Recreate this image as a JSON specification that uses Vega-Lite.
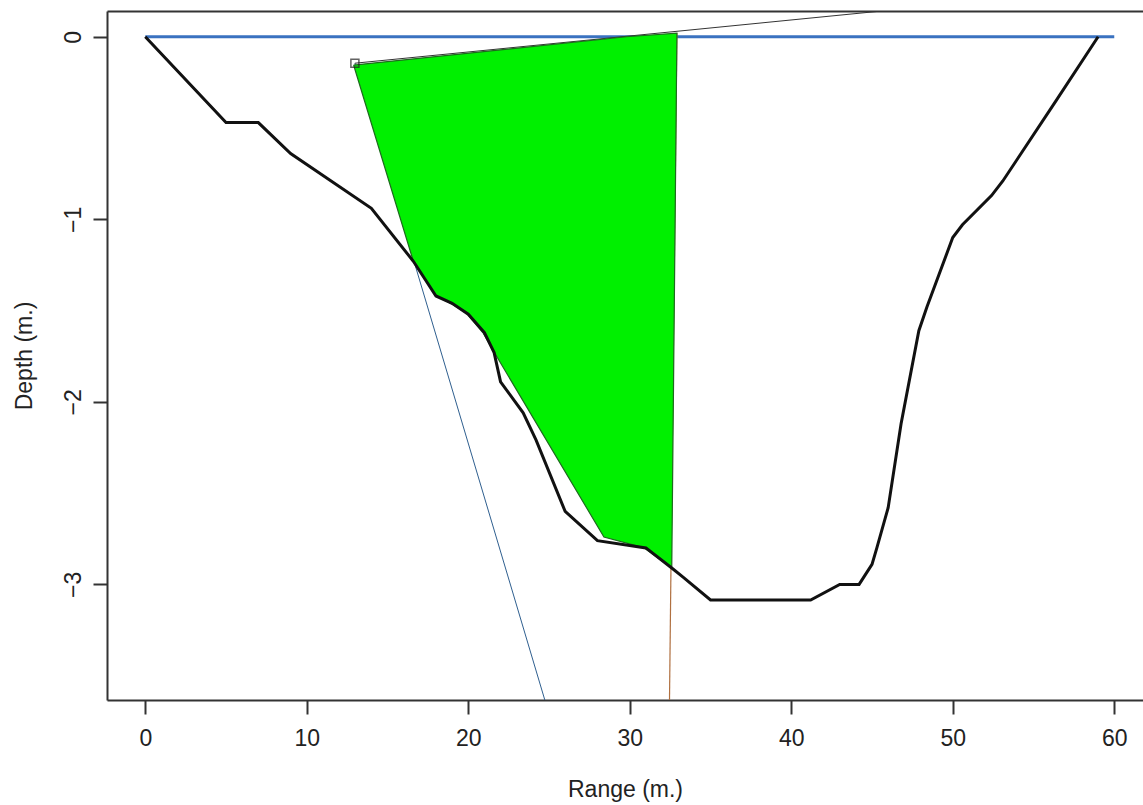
{
  "$schema": "https://vega.github.io/schema/vega-lite/v6.json",
  "autosize": {"type": "none"},
  "width": 1036,
  "height": 689,
  "padding": {"left": 107, "top": 11, "right": 0, "bottom": 105},
  "background": "white",
  "config": {
    "view": {"stroke": null},
    "font": "Liberation Sans",
    "axis": {"grid": false}
  },
  "datasets": {
    "water": [{"x": 0, "y": 0}, {"x": 60, "y": 0}],
    "profile": [
      {"x": 0, "y": 0}, {"x": 5, "y": -0.47}, {"x": 7, "y": -0.47}, {"x": 9, "y": -0.64},
      {"x": 14, "y": -0.94}, {"x": 16.6, "y": -1.23}, {"x": 18, "y": -1.42}, {"x": 19, "y": -1.46},
      {"x": 20, "y": -1.52}, {"x": 21, "y": -1.62}, {"x": 21.6, "y": -1.73}, {"x": 22, "y": -1.89},
      {"x": 23.4, "y": -2.06}, {"x": 24.2, "y": -2.21}, {"x": 26, "y": -2.6}, {"x": 28, "y": -2.76},
      {"x": 31, "y": -2.8}, {"x": 32.6, "y": -2.91}, {"x": 33.3, "y": -2.96}, {"x": 35, "y": -3.085},
      {"x": 41.2, "y": -3.085}, {"x": 43, "y": -3.0}, {"x": 44.2, "y": -3.0}, {"x": 45, "y": -2.89},
      {"x": 45.3, "y": -2.8}, {"x": 46, "y": -2.58}, {"x": 46.8, "y": -2.12}, {"x": 47.9, "y": -1.61},
      {"x": 48.4, "y": -1.48}, {"x": 50, "y": -1.1}, {"x": 50.6, "y": -1.03}, {"x": 52.4, "y": -0.87},
      {"x": 53.1, "y": -0.79}, {"x": 56.4, "y": -0.35}, {"x": 59, "y": 0}
    ],
    "poly": [
      {"i": 1, "x": 12.9, "y": -0.155}, {"i": 2, "x": 29.8, "y": 0.0}, {"i": 3, "x": 32.92, "y": 0.02},
      {"i": 4, "x": 32.6, "y": -2.91}, {"i": 5, "x": 30.9, "y": -2.8}, {"i": 6, "x": 28.4, "y": -2.74},
      {"i": 7, "x": 21.55, "y": -1.72}, {"i": 8, "x": 20.9, "y": -1.62}, {"i": 9, "x": 19.9, "y": -1.515},
      {"i": 10, "x": 18.9, "y": -1.46}, {"i": 11, "x": 18.0, "y": -1.42}, {"i": 12, "x": 16.6, "y": -1.23},
      {"i": 13, "x": 12.9, "y": -0.155}
    ],
    "rayDown": [{"x": 12.98, "y": -0.145}, {"x": 24.74, "y": -3.633}],
    "rayUp": [{"x": 12.98, "y": -0.145}, {"x": 45.6, "y": 0.141}],
    "vline": [{"i": 1, "x": 32.92, "y": 0.02}, {"i": 2, "x": 32.46, "y": -3.633}],
    "square": [{"x": 12.98, "y": -0.145}]
  },
  "resolve": {"axis": {"x": "independent", "y": "independent"}},
  "layer": [
    {
      "data": {"name": "water"},
      "mark": {"type": "line", "color": "#3a72c0", "strokeWidth": 3},
      "encoding": {
        "x": {"field": "x", "type": "quantitative", "scale": {"domain": [-2.37, 61.78], "nice": false, "zero": false},
          "axis": {"orient": "bottom", "values": [0, 10, 20, 30, 40, 50, 60], "title": "Range (m.)",
            "domain": true, "domainColor": "#333", "domainWidth": 2,
            "tickSize": 14, "tickColor": "#333", "tickWidth": 2,
            "labelFontSize": 23, "labelColor": "#222", "labelPadding": 13, "labelFont": "Liberation Sans",
            "titleFontSize": 23, "titleFontWeight": "normal", "titleColor": "#222", "titlePadding": 28, "titleFont": "Liberation Sans"}},
        "y": {"field": "y", "type": "quantitative", "scale": {"domain": [-3.633, 0.141], "nice": false, "zero": false}, "axis": null}
      }
    },
    {
      "data": {"name": "rayDown"},
      "mark": {"type": "line", "color": "#2f5f8f", "strokeWidth": 1, "clip": true},
      "encoding": {
        "x": {"field": "x", "type": "quantitative", "scale": {"domain": [-2.37, 61.78], "nice": false, "zero": false}, "axis": null},
        "y": {"field": "y", "type": "quantitative", "scale": {"domain": [-3.633, 0.141], "nice": false, "zero": false}, "axis": null}
      }
    },
    {
      "data": {"name": "rayUp"},
      "mark": {"type": "line", "color": "#333333", "strokeWidth": 1, "clip": true},
      "encoding": {
        "x": {"field": "x", "type": "quantitative", "scale": {"domain": [-2.37, 61.78], "nice": false, "zero": false},
          "axis": {"orient": "top", "domain": true, "domainColor": "#333", "domainWidth": 2, "ticks": false, "labels": false, "title": null}},
        "y": {"field": "y", "type": "quantitative", "scale": {"domain": [-3.633, 0.141], "nice": false, "zero": false}, "axis": null}
      }
    },
    {
      "data": {"name": "vline"},
      "mark": {"type": "line", "color": "#b07040", "strokeWidth": 1.2, "clip": true},
      "encoding": {
        "x": {"field": "x", "type": "quantitative", "scale": {"domain": [-2.37, 61.78], "nice": false, "zero": false}, "axis": null},
        "y": {"field": "y", "type": "quantitative", "scale": {"domain": [-3.633, 0.141], "nice": false, "zero": false}, "axis": null},
        "order": {"field": "i"}
      }
    },
    {
      "data": {"name": "poly"},
      "mark": {"type": "line", "fill": "#00f000", "stroke": "#1d6b1d", "strokeWidth": 1.2},
      "encoding": {
        "x": {"field": "x", "type": "quantitative", "scale": {"domain": [-2.37, 61.78], "nice": false, "zero": false}, "axis": null},
        "y": {"field": "y", "type": "quantitative", "scale": {"domain": [-3.633, 0.141], "nice": false, "zero": false}, "axis": null},
        "order": {"field": "i"}
      }
    },
    {
      "data": {"name": "profile"},
      "mark": {"type": "line", "color": "#111111", "strokeWidth": 3},
      "encoding": {
        "x": {"field": "x", "type": "quantitative", "scale": {"domain": [-2.37, 61.78], "nice": false, "zero": false}, "axis": null},
        "y": {"field": "y", "type": "quantitative", "scale": {"domain": [-3.633, 0.141], "nice": false, "zero": false},
          "axis": {"orient": "left", "values": [-3, -2, -1, 0], "title": "Depth (m.)",
            "domain": true, "domainColor": "#333", "domainWidth": 2,
            "tickSize": 14, "tickColor": "#333", "tickWidth": 2,
            "labelAngle": -90, "labelAlign": "center", "labelBaseline": "bottom",
            "labelFontSize": 23, "labelColor": "#222", "labelPadding": 8, "labelFont": "Liberation Sans",
            "titleFontSize": 23, "titleFontWeight": "normal", "titleColor": "#222", "titlePadding": 26, "titleFont": "Liberation Sans"}}
      }
    },
    {
      "data": {"name": "square"},
      "mark": {"type": "point", "shape": "square", "size": 64, "filled": false, "stroke": "#222", "strokeWidth": 1.5},
      "encoding": {
        "x": {"field": "x", "type": "quantitative", "scale": {"domain": [-2.37, 61.78], "nice": false, "zero": false}, "axis": null},
        "y": {"field": "y", "type": "quantitative", "scale": {"domain": [-3.633, 0.141], "nice": false, "zero": false}, "axis": null}
      }
    }
  ]
}
